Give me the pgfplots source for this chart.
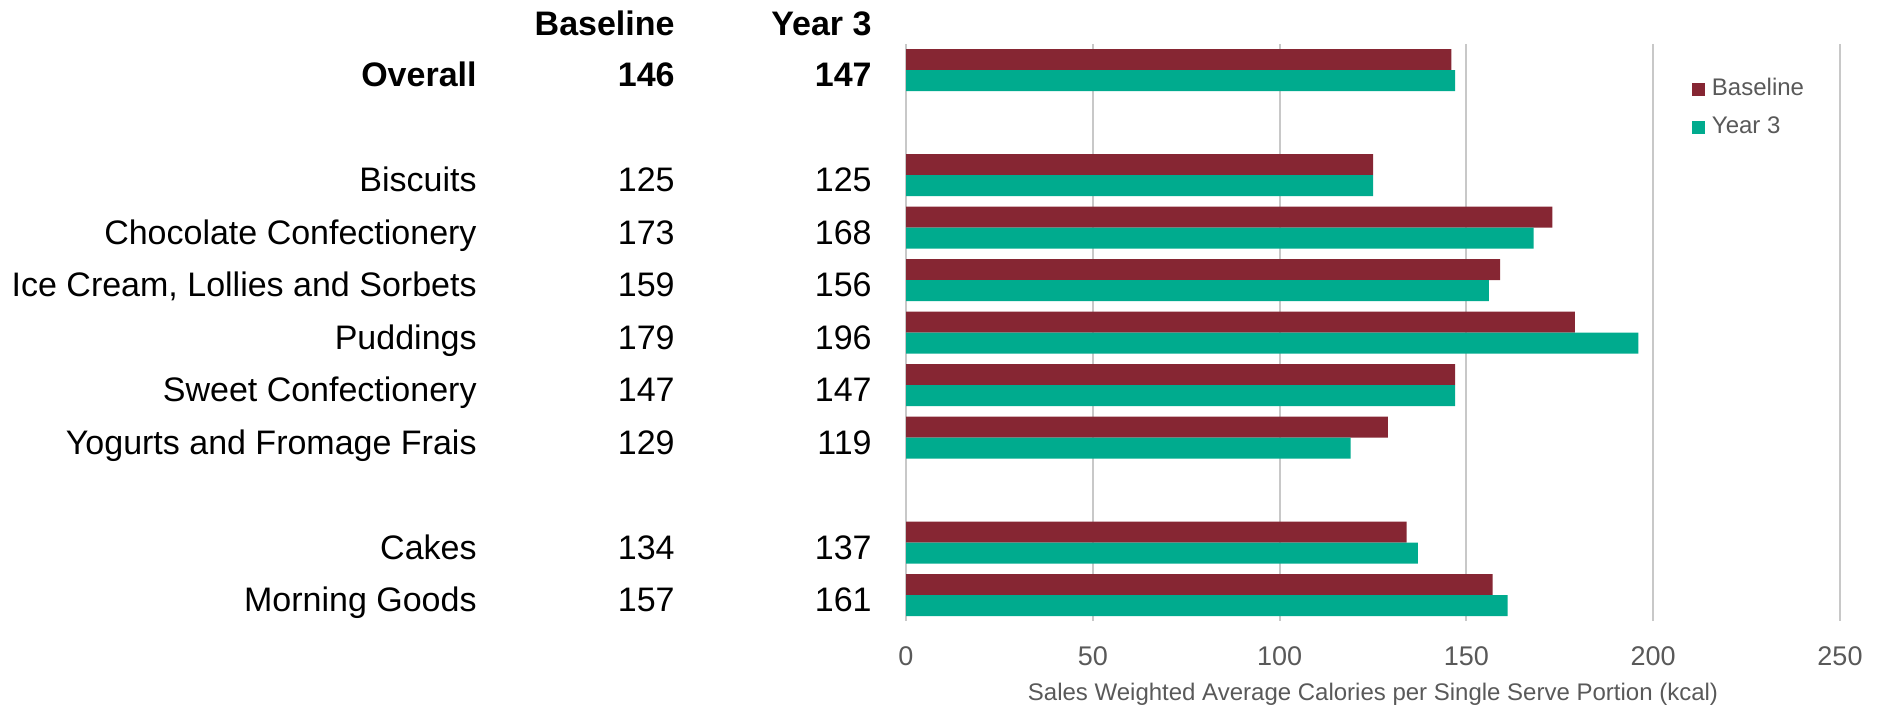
\documentclass[border=0pt]{standalone}
\usepackage{pgfplots}
\pgfplotsset{compat=1.18}
\usepackage{fontspec}
\setmainfont{Liberation Sans}
\definecolor{basec}{HTML}{862633}
\definecolor{yr3c}{HTML}{00AB8E}
\definecolor{gridc}{HTML}{C8C8C8}
\definecolor{txtgray}{HTML}{595959}
\newcommand\rowlab[3]{\makebox[238.5bp][r]{#1}\makebox[99bp][r]{#2}\makebox[98.5bp][r]{#3}}
\begin{document}
\begin{tikzpicture}
\useasboundingbox (0,0) rectangle (944bp,353bp);
\begin{axis}[
  at={(453bp,42.3bp)}, anchor=south west,
  scale only axis, width=467bp, height=288.7bp,
  xbar, bar width=0.4,
  xmin=0, xmax=250,
  ymin=-0.5, ymax=10.5, y dir=reverse,
  xtick={0,50,100,150,200,250},
  ytick={0,2,3,4,5,6,7,9,10},
  yticklabels={
    {\bfseries\rowlab{Overall}{146}{147}},
    {\rowlab{Biscuits}{125}{125}},
    {\rowlab{Chocolate Confectionery}{173}{168}},
    {\rowlab{Ice Cream, Lollies and Sorbets}{159}{156}},
    {\rowlab{Puddings}{179}{196}},
    {\rowlab{Sweet Confectionery}{147}{147}},
    {\rowlab{Yogurts and Fromage Frais}{129}{119}},
    {\rowlab{Cakes}{134}{137}},
    {\rowlab{Morning Goods}{157}{161}}},
  yticklabel style={anchor=base east, inner sep=0pt, xshift=-17bp, yshift=-8.2bp,
    font=\fontsize{17bp}{20bp}\selectfont, text=black},
  xticklabel style={anchor=base, inner sep=0pt, yshift=-21.8bp,
    font=\fontsize{13.5bp}{16bp}\selectfont, text=txtgray},
  /pgf/number format/assume math mode=true,
  xmajorgrids, grid style={draw=gridc, line width=1bp},
  axis line style={draw=none}, tick style={draw=none}, major tick length=0pt,
  xlabel={Sales Weighted Average Calories per Single Serve Portion (kcal)},
  xlabel style={at={(axis description cs:0.5,0)}, anchor=base, inner sep=0pt,
    yshift=-39.3bp, font=\fontsize{12bp}{14bp}\selectfont, text=txtgray},
  clip=false,
  legend image code/.code={\fill[#1] (0bp,-4.3bp) rectangle (6.5bp,2.2bp);},
  legend style={at={(0.8415,1)}, anchor=north west, yshift=-17.3bp,
    draw=none, fill=none, inner sep=0pt, outer sep=0pt,
    column sep=3.5bp, row sep=10.4bp,
    nodes={inner sep=0pt, text height=8.6bp, text depth=0pt, text=txtgray,
      font=\fontsize{12bp}{14bp}\selectfont}},
  legend cell align=left,
]
\addplot[draw=none, fill=basec, bar shift=-0.2] coordinates {
  (146,0) (125,2) (173,3) (159,4) (179,5) (147,6) (129,7) (134,9) (157,10)};
\addlegendentry{Baseline}
\addplot[draw=none, fill=yr3c, bar shift=0.2] coordinates {
  (147,0) (125,2) (168,3) (156,4) (196,5) (147,6) (119,7) (137,9) (161,10)};
\addlegendentry{Year 3}
\node[anchor=base east, inner sep=0pt, xshift=-17bp, yshift=4bp,
  font=\fontsize{17bp}{20bp}\selectfont\bfseries]
  at (axis description cs:0,1) {\rowlab{}{Baseline}{Year 3}};
\end{axis}
\end{tikzpicture}
\end{document}
